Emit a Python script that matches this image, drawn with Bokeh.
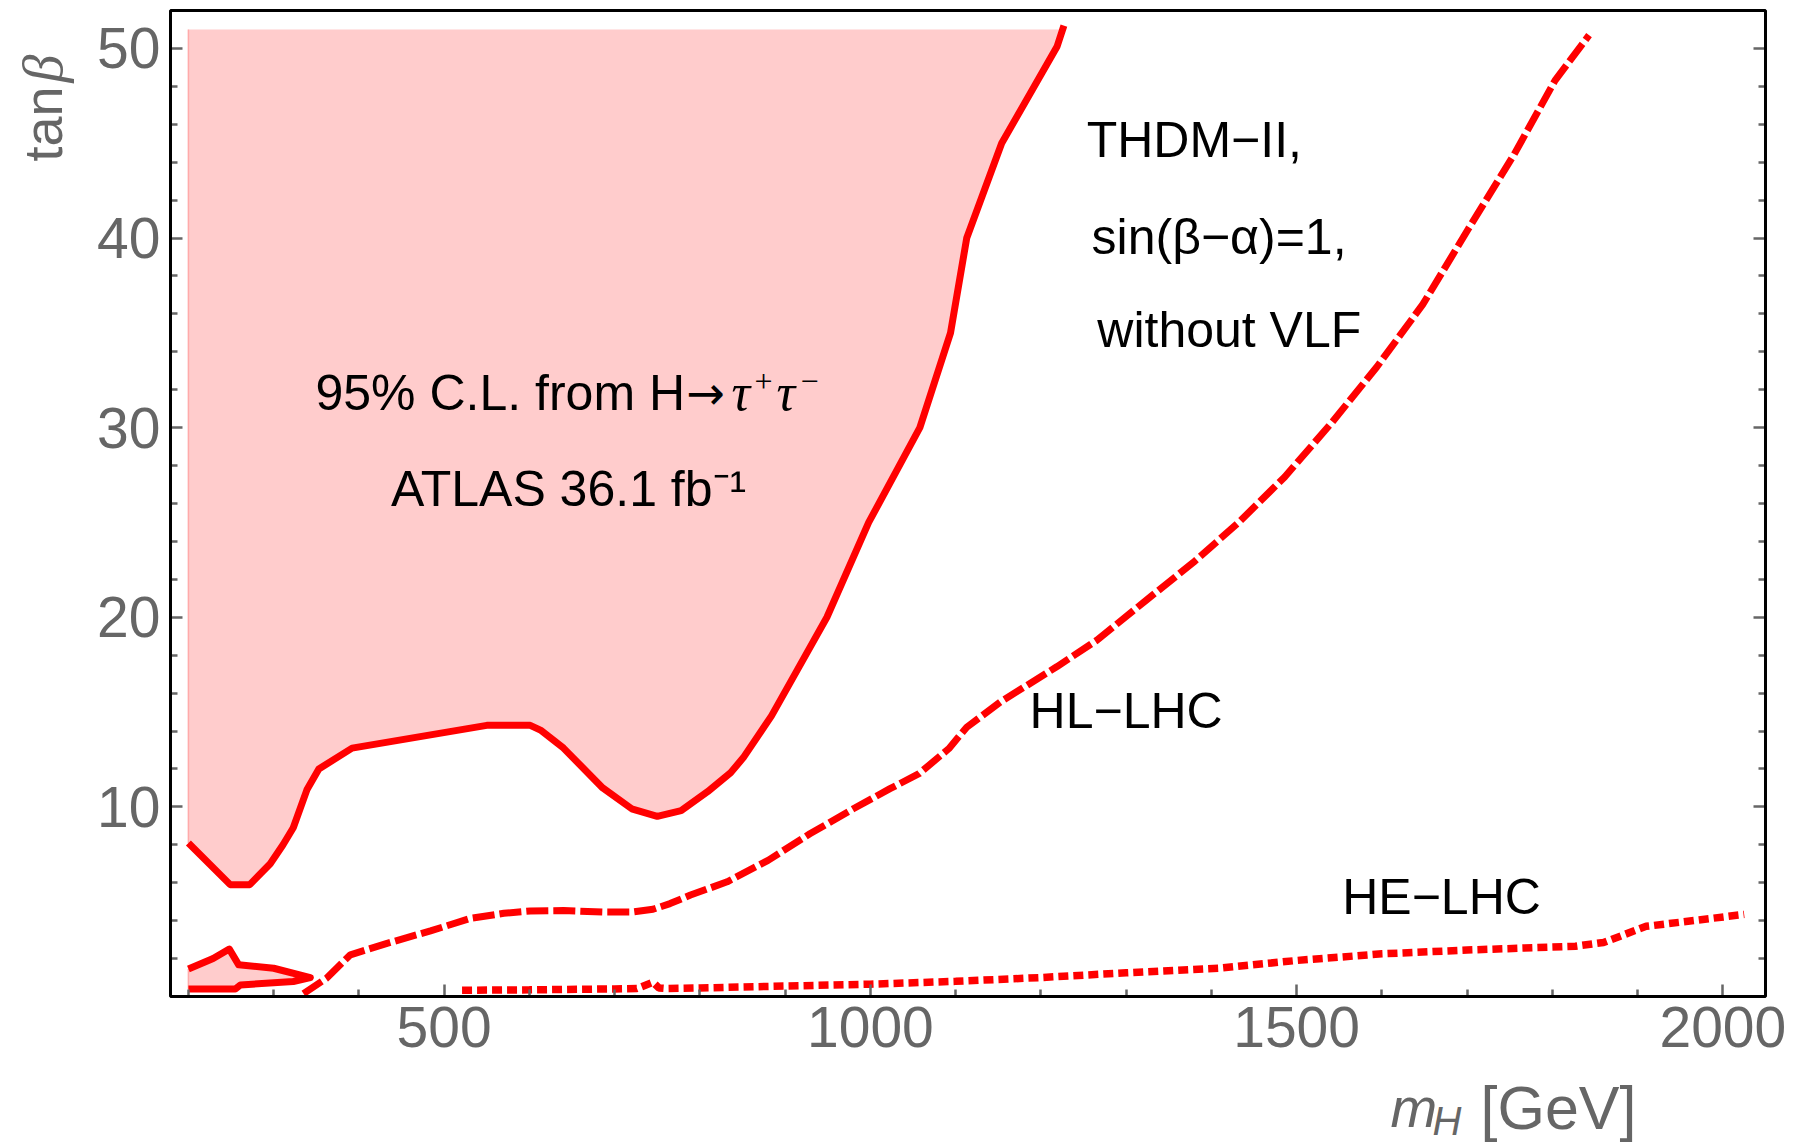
from bokeh.plotting import figure
from bokeh.models import Range1d, LinearAxis, FixedTicker, Label, BoxAnnotation
from bokeh.embed import file_html
from bokeh.resources import INLINE
import math

# ---------------- data ----------------
# observed ATLAS 36.1 fb^-1 exclusion boundary (solid)
obs_m = [200, 249, 272, 296, 311, 323, 339, 353, 392, 550, 601, 613, 640, 686,
         720, 750, 778, 809, 836, 851, 884, 914, 949, 998, 1058, 1094, 1113,
         1154, 1219, 1227]
obs_tb = [8.1, 5.9, 5.9, 7.0, 8.0, 8.9, 10.9, 12.0, 13.1, 14.3, 14.3, 14.05,
          13.1, 11.0, 9.9, 9.5, 9.8, 10.8, 11.8, 12.6, 14.8, 17.2, 20.0, 25.0,
          30.0, 35.0, 40.0, 45.0, 50.1, 51.2]
fill_top = 51.0

# small excluded island at low mass
isl_top_m = [200, 229, 248, 259, 300, 343]
isl_top_tb = [1.45, 2.0, 2.5, 1.67, 1.49, 1.0]
isl_bot_m = [343, 323, 261, 255, 200]
isl_bot_tb = [1.0, 0.79, 0.61, 0.40, 0.40]

# HL-LHC projection (dashed)
hl_m = [335, 362, 390, 433, 484, 531, 570, 601, 640, 687, 720, 745, 765, 789,
        832, 880, 929, 980, 1023, 1057, 1092, 1113, 1153, 1219, 1266, 1325,
        1379, 1432, 1486, 1540, 1594, 1648, 1701, 1755, 1803, 1843]
hl_tb = [0.15, 0.96, 2.2, 2.8, 3.46, 4.12, 4.39, 4.51, 4.53, 4.45, 4.45, 4.6,
         4.9, 5.35, 6.05, 7.18, 8.58, 9.9, 10.96, 11.75, 13.07, 14.2, 15.55,
         17.4, 18.8, 20.95, 22.9, 25.0, 27.4, 30.2, 33.2, 36.5, 40.45, 44.4,
         48.3, 50.7]

# HE-LHC projection (dotted)
he_m = [521, 600, 700, 726, 745, 752, 760, 800, 900, 1000, 1100, 1200, 1300,
        1411, 1500, 1600, 1700, 1827, 1860, 1910, 2025]
he_tb = [0.33, 0.35, 0.4, 0.42, 0.75, 0.45, 0.42, 0.45, 0.55, 0.65, 0.8, 1.0,
         1.25, 1.5, 1.9, 2.25, 2.45, 2.65, 2.85, 3.7, 4.33]

x_major = [500, 1000, 1500, 2000]
x_minor = [v for v in range(200, 2100, 100) if v not in x_major]
y_major = [10, 20, 30, 40, 50]
y_minor = [v for v in range(2, 52, 2) if v not in y_major]

X_LO, X_HI = 179, 2050      # plotted box
Y_LO, Y_HI = 0, 52

RED = "#FF0000"
PINK = "#FFCCCC"
GRAY = "#666666"
FONT = "Liberation Sans"
SERIF = "Liberation Serif"

W, H = 1799, 1144
BOX_L, BOX_R, BOX_T, BOX_B = 170, 1765, 10, 996   # pixel edges of the plotted box
kx = (BOX_R - BOX_L) / (X_HI - X_LO)
ky = (BOX_B - BOX_T) / (Y_HI - Y_LO)
xr = Range1d(X_LO - BOX_L / kx, X_HI + (W - BOX_R) / kx)
yr = Range1d(Y_LO - (H - BOX_B) / ky, Y_HI + BOX_T / ky)


def px2m(px):
    return X_LO + (px - BOX_L) / kx


p = figure(width=W, height=H, output_backend="svg", toolbar_location=None,
           x_range=xr, y_range=yr, min_border=0)
p.background_fill_color = "white"
p.border_fill_color = "white"
p.grid.visible = False
p.outline_line_color = None


def style_axis(ax, major, minor, loc, labels=True):
    ax.fixed_location = loc
    ax.ticker = FixedTicker(ticks=major, minor_ticks=minor)
    ax.axis_line_color = None
    ax.major_tick_in = 12
    ax.major_tick_out = 0
    ax.minor_tick_in = 7
    ax.minor_tick_out = 0
    ax.major_tick_line_color = GRAY
    ax.minor_tick_line_color = GRAY
    ax.major_tick_line_width = 2.5
    ax.minor_tick_line_width = 2.5
    ax.major_label_text_color = GRAY
    ax.major_label_text_font = FONT
    ax.major_label_text_font_size = "57px"
    ax.major_label_standoff = 10
    if not labels:
        ax.major_label_overrides = {v: "" for v in major}


style_axis(p.xaxis[0], x_major, x_minor, Y_LO)
style_axis(p.yaxis[0], y_major, y_minor, X_LO)
right = LinearAxis()
style_axis(right, y_major, y_minor, X_HI, labels=False)
p.add_layout(right, "right")

# ---- excluded region fill ----
x_top = obs_m[-2] + (fill_top - obs_tb[-2]) * (obs_m[-1] - obs_m[-2]) / (obs_tb[-1] - obs_tb[-2])
fx = obs_m[:-1] + [x_top, obs_m[0]]
fy = obs_tb[:-1] + [fill_top, fill_top]
p.patch(fx, fy, fill_color=PINK, line_color=None)
p.line([obs_m[0], obs_m[0]], [obs_tb[0], fill_top], line_color="#FFAAAA", line_width=1.5)

ix = isl_top_m + isl_bot_m
iy = isl_top_tb + isl_bot_tb
p.patch(ix, iy, fill_color=PINK, line_color=None)
p.line([isl_bot_m[-1], isl_top_m[0]], [isl_bot_tb[-1], isl_top_tb[0]],
       line_color="#FFAAAA", line_width=1.5)

# ---- boundaries ----
p.line(obs_m, obs_tb, line_color=RED, line_width=7, line_join="round")
p.line(ix, iy, line_color=RED, line_width=7, line_join="round")
p.line(hl_m, hl_tb, line_color=RED, line_width=7, line_dash="22 5", line_cap="butt")
p.line(he_m, he_tb, line_color=RED, line_width=7.5, line_dash="10 5", line_cap="butt")

# plot frame
p.add_layout(BoxAnnotation(left=X_LO, right=X_HI, bottom=Y_LO, top=Y_HI,
                           fill_color=None, fill_alpha=0, line_color="black",
                           line_alpha=1.0, line_width=3))

# ---- annotations ----
def txt(x, y, s, size="50px", font=FONT, style="normal", align="center", color="black"):
    p.add_layout(Label(x=x, y=y, text=s, text_font=font, text_font_size=size,
                       text_font_style=style, text_align=align,
                       text_baseline="alphabetic", text_color=color))

txt(1380, 45.15, "THDM\u2212II,")
txt(1409, 40.05, "sin(\u03b2\u2212\u03b1)=1,")
txt(1421, 35.15, "without VLF")

# "95% C.L. from H→τ⁺τ⁻" assembled from pieces
b1 = 31.85
sup = b1 + 0.6
txt(px2m(315), b1, "95% C.L. from H", align="left")
txt(px2m(686), b1, "\u2192", font="DejaVu Sans", size="46px", align="left")
txt(px2m(731), b1, "\u03c4", font=SERIF, style="italic", size="52px", align="left")
txt(px2m(754), sup, "+", font=SERIF, size="32px", align="left")
txt(px2m(776), b1, "\u03c4", font=SERIF, style="italic", size="52px", align="left")
txt(px2m(800), sup, "\u2212", font=SERIF, size="32px", align="left")

txt(646, 26.75, "ATLAS 36.1 fb\u207b\u00b9")
txt(1300, 15.05, "HL\u2212LHC")
txt(1670, 5.25, "HE\u2212LHC")

# axis labels (screen units, origin at bottom-left of the canvas)
def slabel(x, y, s, size, style="normal", font=FONT, angle=0.0, align="left"):
    p.add_layout(Label(x=x, y=y, x_units="screen", y_units="screen", text=s,
                       text_font=font, text_font_size=size, text_font_style=style,
                       text_align=align, text_baseline="alphabetic",
                       text_color=GRAY, angle=angle))

slabel(1390, 37, "m", "56px", style="italic")
slabel(1432, 24, "H", "40px", style="italic")
slabel(1480, 37, "[GeV]", "61px")
slabel(42, 1090, "\u03b2", "56px", style="italic", font=SERIF,
       angle=math.pi / 2, align="right")
slabel(42, 1058, "tan", "54px", angle=math.pi / 2, align="right")

open("out.html", "w").write(file_html(p, INLINE))
